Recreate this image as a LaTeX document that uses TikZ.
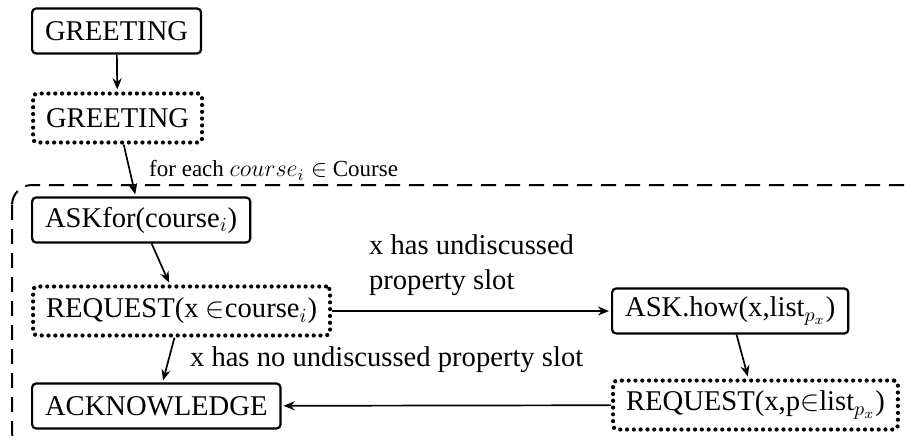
\documentclass[tikz,border=0pt]{standalone}
\usepackage{fontspec}
\setmainfont{Liberation Serif}
\usepackage{tikz}
\usetikzlibrary{arrows.meta}

\tikzset{
    turn/.style = {draw, rounded corners=2pt, line width=1.1pt, inner xsep=6.5pt, minimum height=22.5pt},
    dotturn/.style = {draw, rounded corners=2pt, line width=2.1pt, line cap=round,
        dash pattern=on 0pt off 3.4pt, inner xsep=6.5pt, minimum height=24.5pt},
    post/.style = {-{Stealth[length=5.5pt, width=4.5pt]}, line width=0.85pt, shorten >=1pt},
    loopframe/.style = {line width=1pt, dash pattern=on 7.5pt off 4.5pt, rounded corners=10pt}
}

\begin{document}
\begin{tikzpicture}[x=0.5pt, y=-0.5pt, auto, font=\fontsize{14.3pt}{17.5pt}\selectfont]

    \useasboundingbox (0,0) rectangle (912,441);

    % draw nodes
    \foreach \x/\y/\n/\t in {31/31/greetsys/GREETING, 31/220/askfor/{ASKfor(course$_i$)},
            31/406/ack/ACKNOWLEDGE, 611/311/askhow/{ASK.how(x,list$_{p_x}$)}}
        \node [turn, anchor=west]
            (v\n) at (\x, \y) {\t};

    \foreach \x/\y/\n/\t in {31/118/greetusr/GREETING, 31/311/reqx/{REQUEST(x $\in$course$_i$)},
            611/405/reqp/{REQUEST(x,p$\in$list$_{p_x}$)}}
        \node [dotturn, anchor=west]
            (v\n) at (\x, \y) {\t};

    % loop over courses
    \draw [loopframe] (12,185) rectangle (922,452);

    % draw edges
    \foreach \i/\j in {greetsys/greetusr, askfor/reqx, askhow/reqp, reqp/ack}
        \draw (v\i) edge[post] (v\j);

    \draw (vgreetusr) edge[post] node[right=6pt, font=\fontsize{11.5pt}{13pt}\selectfont]
        {for each $course_i \in$ Course} (vaskfor);
    \draw (vreqx) edge[post] node[above=4pt, align=left]
        {x has undiscussed\\property slot} (vaskhow);
    \draw (vreqx) edge[post] node[right=7pt]
        {x has no undiscussed property slot} (vack);

\end{tikzpicture}
\end{document}
